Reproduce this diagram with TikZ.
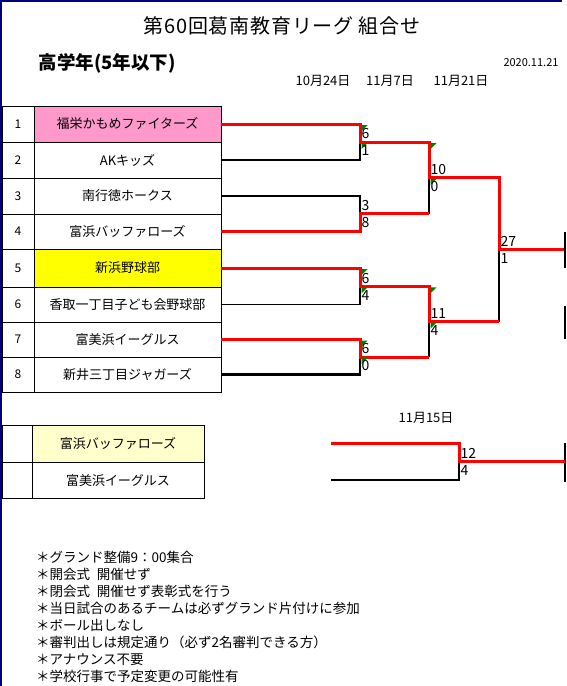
\documentclass[tikz,border=0pt]{standalone}
\usepackage{fontspec}
\setmainfont{Noto Sans CJK JP}
\usetikzlibrary{calc}
\definecolor{framenavy}{HTML}{000080}
\definecolor{cellpink}{HTML}{FF99CC}
\definecolor{cellyellow}{HTML}{FFFF00}
\definecolor{cellcream}{HTML}{FFFFCC}
\definecolor{markgreen}{HTML}{008000}
\definecolor{winred}{HTML}{FF0000}
\newcommand{\errmark}[1]{\fill[markgreen] ($(#1)+(1.5,1)$) -- ++(6,0) -- ++(-6,6) -- cycle;}
\begin{document}
\begin{tikzpicture}[x=1pt, y=-1pt,
    numcell/.style={draw, minimum width=32, inner sep=0, outer sep=0, font=\fontsize{12}{12}\selectfont},
    teamcell/.style={draw, minimum width=187, inner sep=0, outer sep=0, font=\fontsize{13}{13}\selectfont},
    winline/.style={winred, line width=3},
    lossline/.style={black, line width=2.2},
    thinline/.style={black, line width=1},
    stubline/.style={black, line width=1.3},
    scorelabel/.style={anchor=west, inner sep=1.5, font=\fontsize{14}{14}\selectfont},
    datelabel/.style={font=\fontsize{13}{13}\selectfont},
    notetext/.style={anchor=west, inner sep=0, font=\fontsize{13.5}{13.5}\selectfont}]
    \useasboundingbox[fill=white] (0,0) rectangle (567,686);

    % Header
    \node[font=\addfontfeature{LetterSpace=4}\fontsize{20}{20}\selectfont] (title) at (282,26) {第60回葛南教育リーグ 組合せ};
    \node[anchor=west, font=\bfseries\fontsize{18.5}{18.5}\selectfont] (grade) at (35,63) {高学年(5年以下)};
    \node[anchor=east, font=\fontsize{11}{11}\selectfont] (issued) at (562,63) {2020.11.21};
    \node[datelabel] (d1) at (323,81) {10月24日};
    \node[datelabel] (d2) at (390,81) {11月7日};
    \node[datelabel] (d3) at (461,81) {11月21日};

    % Teams
    \foreach \n/\yc/\h/\team/\cfill in {1/124/36/福栄かもめファイターズ/cellpink, 2/160/36/AKキッズ/white,
        3/196/36/南行徳ホークス/white, 4/231.5/35/富浜バッファローズ/white, 5/268/38/新浜野球部/cellyellow,
        6/304.5/35/香取一丁目子ども会野球部/white, 7/339.5/35/富美浜イーグルス/white, 8/374.5/35/新井三丁目ジャガーズ/white}{
        \node[numcell, minimum height=\h] (n\n) at (18,\yc) {\n};
        \node[teamcell, fill=\cfill, minimum height=\h, anchor=west] (t\n) at (n\n.east) {\team};
    }

    % Bracket points
    \coordinate (m1) at (360,142);
    \coordinate (m2) at (360,213.75);
    \coordinate (m3) at (360,286.25);
    \coordinate (m4) at (360,357);
    \coordinate (s1) at (429,177.9);
    \coordinate (s2) at (429,321.6);
    \coordinate (f1) at (499,249.75);
    \coordinate (edge) at (565,0);

    % Losing lines
    \draw[lossline] (t2.east) -| (m1);
    \draw[lossline] (t3.east) -| (m2);
    \draw[thinline] (t6.east) -- (t6.east -| m3);
    \draw[lossline] (t6.east -| m3) -- (m3);
    \draw[lossline] (t8.east) -| (m4);
    \draw[lossline] (m2 -| s1) -- (s1);
    \draw[lossline] (m4 -| s2) -- (s2);
    \draw[lossline] (s2 -| f1) -- (f1);

    % Winning lines
    \draw[winline] (t1.east) -| (m1) -- (m1 -| s1) -- (s1) -- (s1 -| f1) -- (f1) -- (f1 -| edge);
    \draw[winline] (t4.east) -| (m2) -- (m2 -| s1);
    \draw[winline] (t5.east) -| (m3) -- (m3 -| s2) -- (s2) -- (s2 -| f1);
    \draw[winline] (t7.east) -| (m4) -- (m4 -| s2);

    % Next sheet
    \draw[stubline] (565,232) -- (565,268);
    \draw[stubline] (565,306) -- (565,339);
    \draw[stubline] (565,443) -- (565,482);

    % Scores
    \errmark{t1.east -| m1} \errmark{m1}
    \errmark{m1 -| s1} \errmark{s1}
    \errmark{t5.east -| m3} \errmark{m3}
    \errmark{t7.east -| m4} \errmark{m4}
    \errmark{m3 -| s2} \errmark{s2}
    \foreach \c/\sa/\sb in {m1/6/1, m2/3/8, m3/6/4, m4/6/0, s1/10/0, s2/11/4, f1/27/1}{
        \node[scorelabel] (\c a) at ($(\c)+(0,-8)$) {\sa};
        \node[scorelabel] (\c b) at ($(\c)+(0,9)$) {\sb};
    }

    % Play-off
    \node[datelabel] (d4) at (426,418) {11月15日};
    \node[numcell, minimum width=30, minimum height=37] (n9) at (17,443.5) {};
    \node[teamcell, minimum width=172, minimum height=37, fill=cellcream, anchor=west] (t9) at (n9.east) {富浜バッファローズ};
    \node[numcell, minimum width=30, minimum height=36] (n10) at (17,480.5) {};
    \node[teamcell, minimum width=172, minimum height=36, anchor=west] (t10) at (n10.east) {富美浜イーグルス};
    \coordinate (p1) at (331,443);
    \coordinate (p2) at (331,480);
    \coordinate (q1) at (459,461.5);
    \draw[lossline] (p2) -| (q1);
    \draw[winline] (p1) -| (q1) -- (q1 -| edge);
    \node[scorelabel] (q1a) at ($(q1)+(0,-8)$) {12};
    \node[scorelabel] (q1b) at ($(q1)+(0,9)$) {4};

    % Notes
    \foreach \k/\txt in {0/{＊グランド整備9：00集合}, 1/{＊開会式\hspace{0.5em}開催せず},
        2/{＊閉会式\hspace{0.5em}開催せず表彰式を行う}, 3/{＊当日試合のあるチームは必ずグランド片付けに参加},
        4/{＊ボール出しなし}, 5/{＊審判出しは規定通り（必ず2名審判できる方）}, 6/{＊アナウンス不要},
        7/{＊学校行事で予定変更の可能性有}}{
        \node[notetext] (note\k) at (36,{557+17.1*\k}) {\txt};
    }

    % Frame
    \draw[framenavy, line width=2] (1,686) -- (1,1) -- (562,1);
\end{tikzpicture}
\end{document}
